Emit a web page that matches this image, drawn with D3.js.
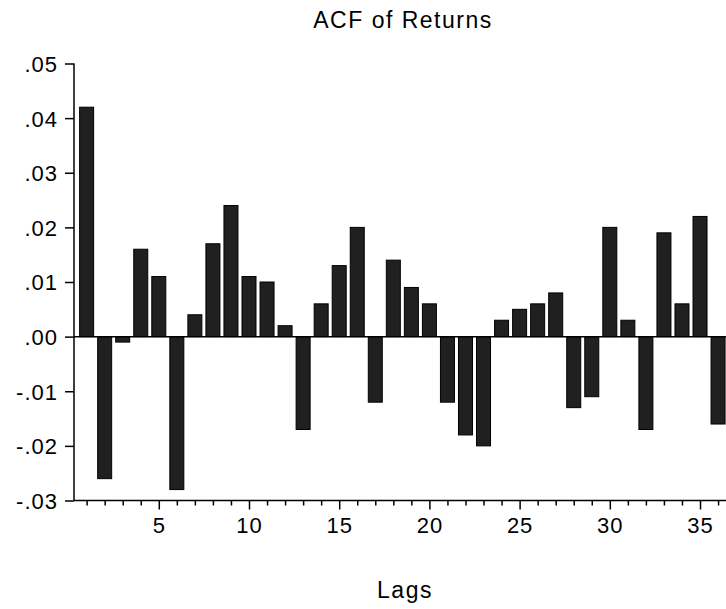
<!DOCTYPE html>
<html>
<head>
<meta charset="utf-8">
<script src="https://cdn.jsdelivr.net/npm/d3@7/dist/d3.min.js"></script>
<style>
  html, body { margin: 0; padding: 0; background: #fff; }
  svg { display: block; }
  text { font-family: "Liberation Sans", Arial, Helvetica, sans-serif; fill: #000; }
</style>
</head>
<body>
<svg id="chart" width="726" height="609"></svg>
<script>
// Autocorrelation of returns, lags 1..36
const lags = d3.range(1, 37);
const acf = [
  0.042, -0.026, -0.001, 0.016, 0.011, -0.028, 0.004, 0.017, 0.024, 0.011,
  0.010, 0.002, -0.017, 0.006, 0.013, 0.020, -0.012, 0.014, 0.009, 0.006,
  -0.012, -0.018, -0.020, 0.003, 0.005, 0.006, 0.008, -0.013, -0.011, 0.020,
  0.003, -0.017, 0.019, 0.006, 0.022, -0.016
];
const yTicks = [-0.03, -0.02, -0.01, 0.00, 0.01, 0.02, 0.03, 0.04, 0.05];
const xMajorTicks = [5, 10, 15, 20, 25, 30, 35];

const title = "ACF of Returns";
const xTitle = "Lags";

const svg = d3.select("#chart");
const plotLeft = 74, plotRight = 726, plotTop = 63.5, plotBottom = 500.5;

const x = d3.scaleLinear().domain([0.3, 36.44]).range([plotLeft, plotRight]);
const y = d3.scaleLinear().domain([-0.03, 0.05]).range([plotBottom, plotTop]);

// ".01" / "-.01" style labels (no leading zero, ASCII hyphen)
const fmt = v => {
  const a = Math.abs(v).toFixed(2).replace(/^0/, "");
  return (v < -1e-9 ? "-" : "") + a;
};

// Bars
const barW = 14;
svg.append("g")
  .selectAll("rect")
  .data(lags.map((l, i) => ({ lag: l, v: acf[i] })))
  .join("rect")
  .attr("x", d => x(d.lag) - barW / 2)
  .attr("width", barW)
  .attr("y", d => Math.min(y(d.v), y(0)))
  .attr("height", d => Math.abs(y(d.v) - y(0)))
  .attr("fill", "#202020")
  .attr("stroke", "#000")
  .attr("stroke-width", 1);

// Zero line
svg.append("line")
  .attr("x1", plotLeft).attr("x2", plotRight)
  .attr("y1", y(0)).attr("y2", y(0))
  .attr("stroke", "#000").attr("stroke-width", 1.5);

// Y axis
const yAxis = d3.axisLeft(y)
  .tickValues(yTicks)
  .tickFormat(fmt)
  .tickSize(9)
  .tickPadding(7);
const gy = svg.append("g").attr("transform", `translate(${plotLeft},0)`).call(yAxis);
gy.select(".domain").attr("d", `M0,${plotTop}V${plotBottom}`).attr("stroke-width", 1.5);
gy.selectAll(".tick line").attr("stroke-width", 1.5);
gy.selectAll(".tick text")
  .style("font-size", "22px")
  .style("letter-spacing", "1px")
  .attr("dy", "0.36em");

// X axis: minor ticks at every lag, labels every 5
const gx = svg.append("g").attr("transform", `translate(0,${plotBottom})`);
gx.append("line")
  .attr("x1", plotLeft).attr("x2", plotRight)
  .attr("y1", 0).attr("y2", 0)
  .attr("stroke", "#000").attr("stroke-width", 1.5);
const xAxis = d3.axisBottom(x)
  .tickValues(lags)
  .tickFormat(d => xMajorTicks.includes(d) ? String(d) : "")
  .tickSizeOuter(0)
  .tickSize(5)
  .tickPadding(12);
const gxa = gx.append("g").call(xAxis);
gxa.select(".domain").remove();
gxa.selectAll(".tick line")
  .attr("y2", d => xMajorTicks.includes(d) ? 9 : 5)
  .attr("stroke-width", 1.5);
gxa.selectAll(".tick text")
  .style("font-size", "22px")
  .style("letter-spacing", "1px");

// Titles
svg.append("text")
  .attr("x", 403).attr("y", 28)
  .attr("text-anchor", "middle")
  .style("font-size", "23px")
  .style("letter-spacing", "1.5px")
  .text(title);

svg.append("text")
  .attr("x", 405).attr("y", 598)
  .attr("text-anchor", "middle")
  .style("font-size", "23px")
  .style("letter-spacing", "1.5px")
  .text(xTitle);
</script>
</body>
</html>
